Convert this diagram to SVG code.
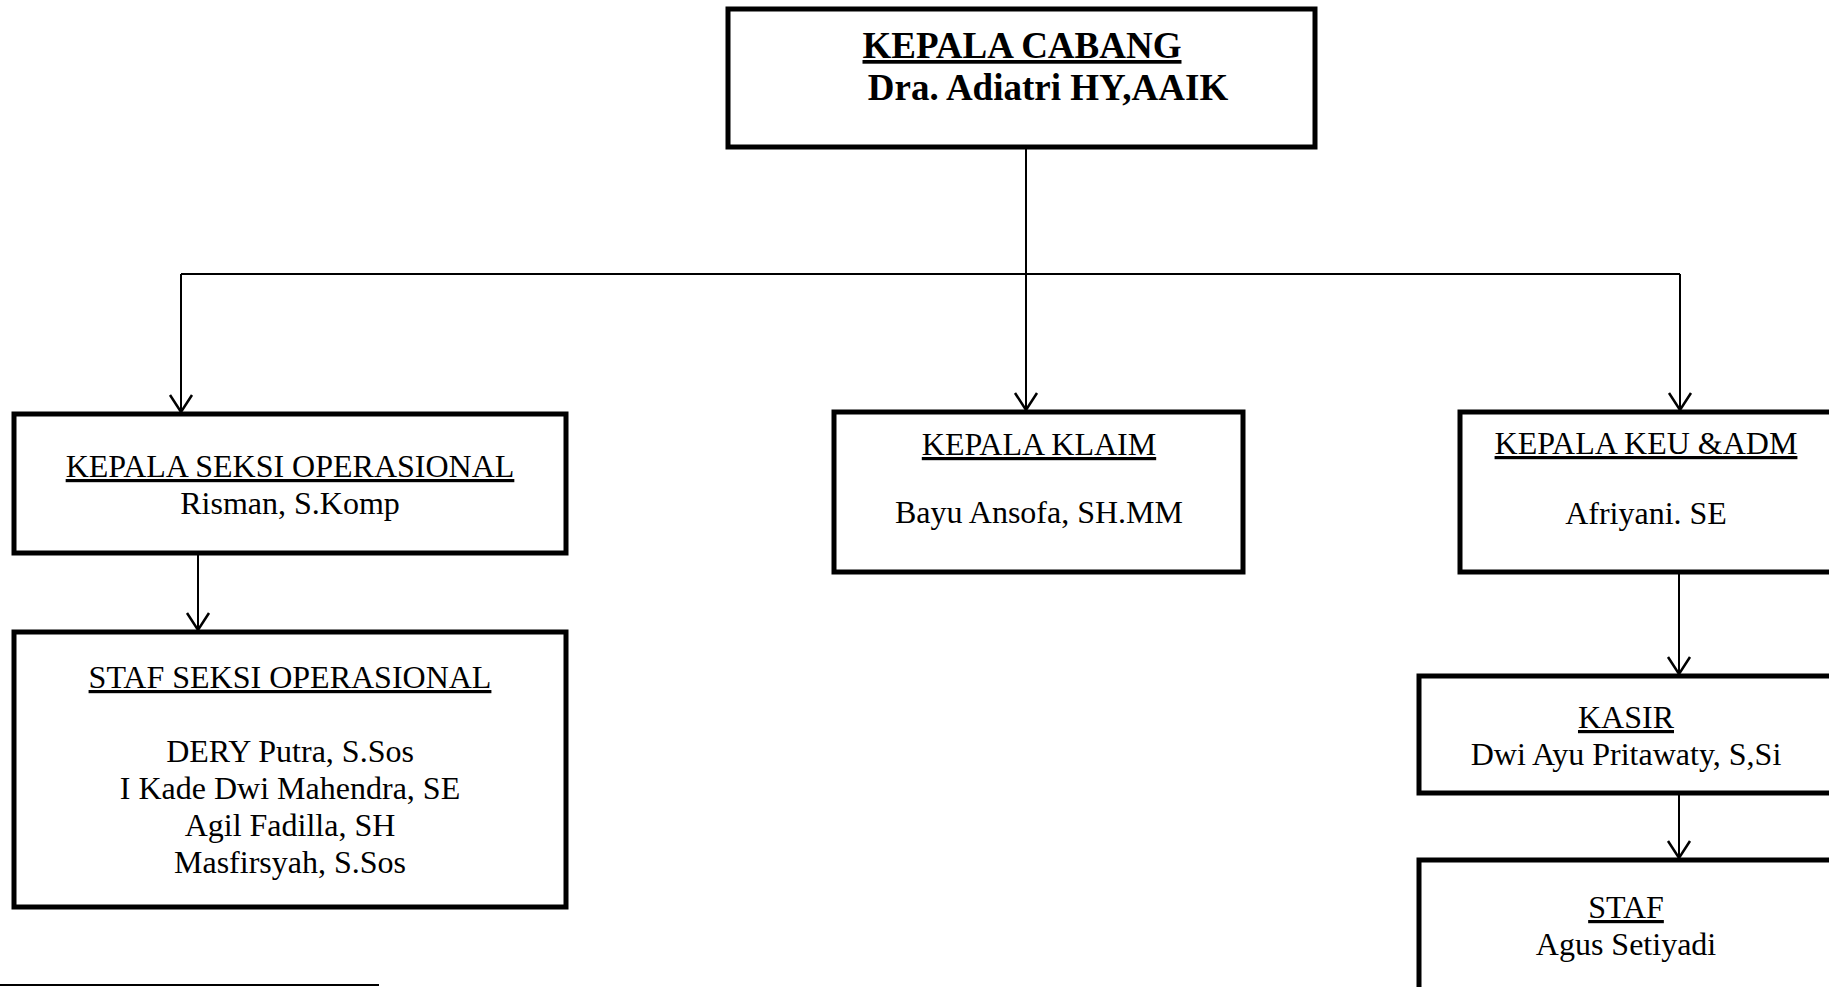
<svg xmlns="http://www.w3.org/2000/svg" width="1829" height="987" viewBox="0 0 1829 987">
<style>
.box{fill:#fff;stroke:#000;stroke-width:5}
.t{font-family:"Liberation Serif","Times New Roman",serif;font-size:32px;fill:#000;text-anchor:middle}
.u{text-decoration:underline}
.b{font-weight:bold;font-size:37px}
.c{fill:none;stroke:#000;stroke-width:2}
</style>
<defs>
<marker id="arr" viewBox="-20 -14 24 28" refX="0" refY="0" markerWidth="24" markerHeight="28" markerUnits="userSpaceOnUse" orient="auto">
<path d="M-17,-11 L0,0 L-17,11" fill="none" stroke="#000" stroke-width="2.5"/>
</marker>
</defs>
<rect width="1829" height="987" fill="#fff"/>
<g id="connectors">
<line class="c" x1="1026" y1="147" x2="1026" y2="274"/>
<line class="c" x1="181" y1="274" x2="1680" y2="274"/>
<line class="c" x1="181" y1="274" x2="181" y2="412" marker-end="url(#arr)"/>
<line class="c" x1="1026" y1="274" x2="1026" y2="410" marker-end="url(#arr)"/>
<line class="c" x1="1680" y1="274" x2="1680" y2="410" marker-end="url(#arr)"/>
<line class="c" x1="198" y1="553" x2="198" y2="630" marker-end="url(#arr)"/>
<line class="c" x1="1679" y1="572" x2="1679" y2="674" marker-end="url(#arr)"/>
<line class="c" x1="1679" y1="793" x2="1679" y2="858" marker-end="url(#arr)"/>
</g>
<g id="kepala-cabang">
<rect class="box" x="728" y="9" width="587" height="138"/>
<text class="t b u" x="1022" y="58">KEPALA CABANG</text>
<text class="t b" x="1048" y="100">Dra. Adiatri HY,AAIK</text>
</g>
<g id="kepala-seksi-operasional">
<rect class="box" x="14" y="414" width="552" height="139"/>
<text class="t u" x="290" y="477">KEPALA SEKSI OPERASIONAL</text>
<text class="t" x="290" y="514">Risman, S.Komp</text>
</g>
<g id="staf-seksi-operasional">
<rect class="box" x="14" y="632" width="552" height="275"/>
<text class="t u" x="290" y="688">STAF SEKSI OPERASIONAL</text>
<text class="t" x="290" y="762">DERY Putra, S.Sos</text>
<text class="t" x="290" y="799">I Kade Dwi Mahendra, SE</text>
<text class="t" x="290" y="836">Agil Fadilla, SH</text>
<text class="t" x="290" y="873">Masfirsyah, S.Sos</text>
</g>
<g id="kepala-klaim">
<rect class="box" x="834" y="412" width="409" height="160"/>
<text class="t u" x="1039" y="455">KEPALA KLAIM</text>
<text class="t" x="1039" y="523">Bayu Ansofa, SH.MM</text>
</g>
<g id="kepala-keu-adm">
<rect class="box" x="1460" y="412" width="376" height="160"/>
<text class="t u" x="1646" y="454">KEPALA KEU &amp;ADM</text>
<text class="t" x="1646" y="524">Afriyani. SE</text>
</g>
<g id="kasir">
<rect class="box" x="1419" y="676" width="421" height="117"/>
<text class="t u" x="1626" y="728">KASIR</text>
<text class="t" x="1626" y="765">Dwi Ayu Pritawaty, S,Si</text>
</g>
<g id="staf">
<rect class="box" x="1419" y="860" width="421" height="140"/>
<text class="t u" x="1626" y="918">STAF</text>
<text class="t" x="1626" y="955">Agus Setiyadi</text>
</g>
<line x1="0" y1="985" x2="379" y2="985" stroke="#000" stroke-width="2"/>
</svg>
